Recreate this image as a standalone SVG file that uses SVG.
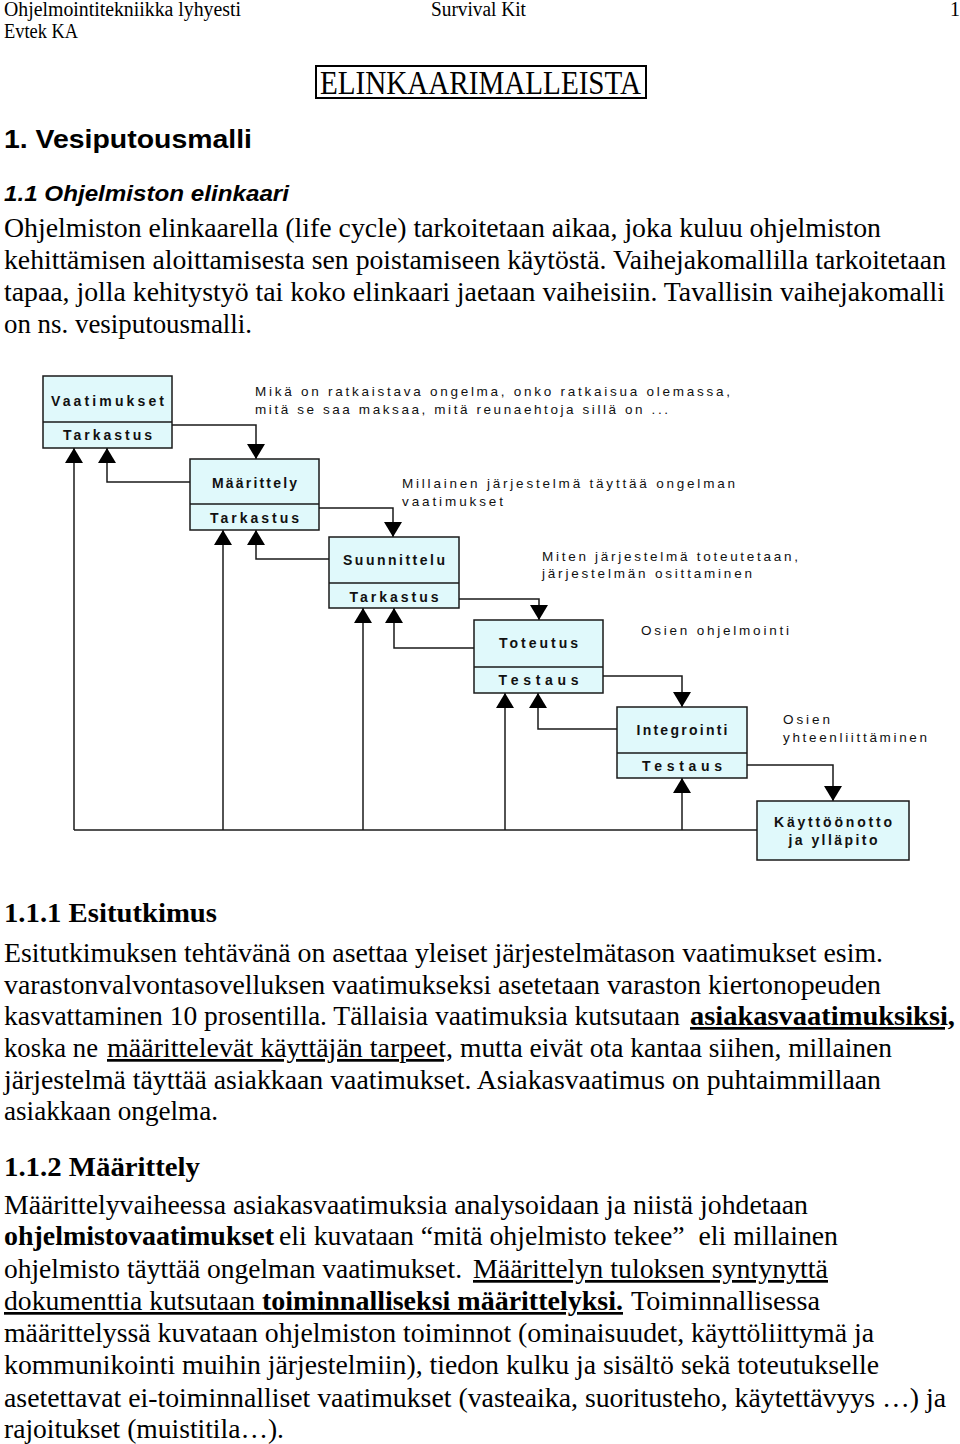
<svg xmlns="http://www.w3.org/2000/svg" width="960" height="1444" viewBox="0 0 960 1444">
<style>
.bg{fill:#ffffff}
.serif{font-family:"Liberation Serif","Times New Roman",serif;fill:#000}
.hdr{font-size:20px}
.body{font-size:27px}
.b{font-weight:bold}
.u{text-decoration:underline}
.pre{white-space:pre}
.h1{font-family:"Liberation Sans",Arial,sans-serif;font-weight:bold;font-size:26px;fill:#000}
.h2{font-family:"Liberation Sans",Arial,sans-serif;font-weight:bold;font-style:italic;font-size:22px;fill:#000}
.box{fill:#e0f9fb;stroke:#1a1a1a;stroke-width:1.5}
.div{stroke:#1a1a1a;stroke-width:1.5;fill:none}
.lbl{font-family:"Liberation Sans",Arial,sans-serif;font-weight:bold;font-size:14px;fill:#111;text-anchor:middle}
.note{font-family:"Liberation Sans",Arial,sans-serif;font-size:13.5px;fill:#111}
.con{fill:none;stroke:#1a1a1a;stroke-width:1.5}
.arr{marker-end:url(#ah)}
</style>
<defs>
<marker id="ah" markerUnits="userSpaceOnUse" viewBox="0 0 15 18" markerWidth="15" markerHeight="18" refX="15" refY="9" orient="auto">
<path d="M0,0 L15,9 L0,18 Z" fill="#000"/>
</marker>
</defs>
<rect class="bg" x="0" y="0" width="960" height="1444"/>

<g id="header">
<text class="serif hdr" x="4" y="16" textLength="237" lengthAdjust="spacingAndGlyphs">Ohjelmointitekniikka  lyhyesti</text>
<text class="serif hdr" x="431" y="16" textLength="95" lengthAdjust="spacingAndGlyphs">Survival Kit</text>
<text class="serif hdr" x="950" y="16">1</text>
<text class="serif hdr" x="4" y="38" textLength="74" lengthAdjust="spacingAndGlyphs">Evtek KA</text>
</g>

<g id="title">
<rect x="316" y="66" width="330" height="32" fill="none" stroke="#000" stroke-width="2"/>
<text class="serif" x="320" y="94" font-size="34" textLength="321" lengthAdjust="spacingAndGlyphs">ELINKAARIMALLEISTA</text>
</g>

<g id="intro">
<text class="h1" x="4" y="148" textLength="248" lengthAdjust="spacingAndGlyphs">1.  Vesiputousmalli</text>
<text class="h2" x="4" y="201" textLength="285" lengthAdjust="spacingAndGlyphs">1.1  Ohjelmiston elinkaari</text>
<text class="serif body" x="4" y="237" textLength="877" lengthAdjust="spacingAndGlyphs">Ohjelmiston elinkaarella (life cycle) tarkoitetaan aikaa, joka kuluu ohjelmiston</text>
<text class="serif body" x="4" y="269" textLength="942" lengthAdjust="spacingAndGlyphs">kehittämisen aloittamisesta sen poistamiseen käytöstä. Vaihejakomallilla tarkoitetaan</text>
<text class="serif body" x="4" y="301" textLength="941" lengthAdjust="spacingAndGlyphs">tapaa, jolla kehitystyö tai koko elinkaari jaetaan vaiheisiin. Tavallisin vaihejakomalli</text>
<text class="serif body" x="4" y="333" textLength="248" lengthAdjust="spacingAndGlyphs">on ns. vesiputousmalli.</text>
</g>

<g id="connectors">
<path class="con arr" d="M172,425 H256 V459"/>
<path class="con arr" d="M319,508 H393 V537"/>
<path class="con arr" d="M459,599 H539 V620"/>
<path class="con arr" d="M603,676 H682 V707"/>
<path class="con arr" d="M747,765 H833 V801"/>
<path class="con arr" d="M190,482 H107 V448"/>
<path class="con arr" d="M329,559 H256 V530"/>
<path class="con arr" d="M474,648 H394 V608"/>
<path class="con arr" d="M617,729 H538 V693"/>
<path class="con" d="M757,830 H74"/>
<path class="con arr" d="M74,830 V448"/>
<path class="con arr" d="M223,830 V530"/>
<path class="con arr" d="M363,830 V608"/>
<path class="con arr" d="M505,830 V693"/>
<path class="con arr" d="M682,830 V778"/>
</g>

<g id="vaatimukset">
<rect class="box" x="43" y="376" width="129" height="72"/>
<line class="div" x1="43" y1="422" x2="172" y2="422"/>
<text class="lbl" x="107.5" y="406" textLength="113" lengthAdjust="spacing">Vaatimukset</text>
<text class="lbl" x="107.5" y="440" textLength="89" lengthAdjust="spacing">Tarkastus</text>
<text class="note" x="255" y="396" textLength="475" lengthAdjust="spacing">Mikä on ratkaistava ongelma, onko ratkaisua olemassa,</text>
<text class="note" x="255" y="414" textLength="413" lengthAdjust="spacing">mitä se saa maksaa, mitä reunaehtoja sillä on ...</text>
</g>

<g id="maarittely">
<rect class="box" x="190" y="459" width="129" height="71"/>
<line class="div" x1="190" y1="504" x2="319" y2="504"/>
<text class="lbl" x="254.5" y="488" textLength="85" lengthAdjust="spacing">Määrittely</text>
<text class="lbl" x="254.5" y="523" textLength="89" lengthAdjust="spacing">Tarkastus</text>
<text class="note" x="402" y="488" textLength="333" lengthAdjust="spacing">Millainen järjestelmä täyttää ongelman</text>
<text class="note" x="402" y="506" textLength="101" lengthAdjust="spacing">vaatimukset</text>
</g>

<g id="suunnittelu">
<rect class="box" x="329" y="537" width="130" height="71"/>
<line class="div" x1="329" y1="583" x2="459" y2="583"/>
<text class="lbl" x="394" y="565" textLength="102" lengthAdjust="spacing">Suunnittelu</text>
<text class="lbl" x="394" y="602" textLength="89" lengthAdjust="spacing">Tarkastus</text>
<text class="note" x="542" y="561" textLength="256" lengthAdjust="spacing">Miten järjestelmä toteutetaan,</text>
<text class="note" x="542" y="578" textLength="210" lengthAdjust="spacing">järjestelmän osittaminen</text>
</g>

<g id="toteutus">
<rect class="box" x="474" y="620" width="129" height="73"/>
<line class="div" x1="474" y1="667" x2="603" y2="667"/>
<text class="lbl" x="538.5" y="648" textLength="79" lengthAdjust="spacing">Toteutus</text>
<text class="lbl" x="538.5" y="685" textLength="80" lengthAdjust="spacing">Testaus</text>
<text class="note" x="641" y="635" textLength="148" lengthAdjust="spacing">Osien ohjelmointi</text>
</g>

<g id="integrointi">
<rect class="box" x="617" y="707" width="130" height="71"/>
<line class="div" x1="617" y1="753" x2="747" y2="753"/>
<text class="lbl" x="682" y="735" textLength="91" lengthAdjust="spacing">Integrointi</text>
<text class="lbl" x="682" y="771" textLength="80" lengthAdjust="spacing">Testaus</text>
<text class="note" x="783" y="724" textLength="47" lengthAdjust="spacing">Osien</text>
<text class="note" x="783" y="742" textLength="144" lengthAdjust="spacing">yhteenliittäminen</text>
</g>

<g id="kayttoonotto">
<rect class="box" x="757" y="801" width="152" height="59"/>
<text class="lbl" x="833" y="827" textLength="118" lengthAdjust="spacing">Käyttöönotto</text>
<text class="lbl" x="833" y="845" textLength="89" lengthAdjust="spacing">ja ylläpito</text>
</g>

<g id="esitutkimus">
<text class="serif body b" x="4" y="922" textLength="213" lengthAdjust="spacingAndGlyphs">1.1.1  Esitutkimus</text>
<text class="serif body" x="4" y="962" textLength="879" lengthAdjust="spacingAndGlyphs">Esitutkimuksen tehtävänä on asettaa yleiset järjestelmätason vaatimukset esim.</text>
<text class="serif body" x="4" y="994" textLength="877" lengthAdjust="spacingAndGlyphs">varastonvalvontasovelluksen vaatimukseksi asetetaan varaston kiertonopeuden</text>
<text class="serif body" x="4" y="1025" textLength="676" lengthAdjust="spacingAndGlyphs">kasvattaminen 10 prosentilla. Tällaisia vaatimuksia kutsutaan</text>
<text class="serif body b u" x="690" y="1025" textLength="265" lengthAdjust="spacingAndGlyphs">asiakasvaatimuksiksi,</text>
<text class="serif body" x="4" y="1057" textLength="94" lengthAdjust="spacingAndGlyphs">koska ne</text>
<text class="serif body u" x="107" y="1057" textLength="346" lengthAdjust="spacingAndGlyphs">määrittelevät käyttäjän tarpeet,</text>
<text class="serif body" x="460" y="1057" textLength="432" lengthAdjust="spacingAndGlyphs">mutta eivät ota kantaa siihen, millainen</text>
<text class="serif body" x="4" y="1089" textLength="877" lengthAdjust="spacingAndGlyphs">järjestelmä täyttää asiakkaan vaatimukset. Asiakasvaatimus on puhtaimmillaan</text>
<text class="serif body" x="4" y="1120" textLength="214" lengthAdjust="spacingAndGlyphs">asiakkaan ongelma.</text>
</g>

<g id="maarittely-teksti">
<text class="serif body b" x="4" y="1176" textLength="196" lengthAdjust="spacingAndGlyphs">1.1.2  Määrittely</text>
<text class="serif body" x="4" y="1214" textLength="804" lengthAdjust="spacingAndGlyphs">Määrittelyvaiheessa asiakasvaatimuksia analysoidaan ja niistä johdetaan</text>
<text class="serif body b" x="4" y="1245" textLength="270" lengthAdjust="spacingAndGlyphs">ohjelmistovaatimukset</text>
<text class="serif body pre" x="279" y="1245" textLength="559" lengthAdjust="spacingAndGlyphs">eli kuvataan “mitä ohjelmisto tekee”  eli millainen</text>
<text class="serif body" x="4" y="1278" textLength="458" lengthAdjust="spacingAndGlyphs">ohjelmisto täyttää ongelman vaatimukset.</text>
<text class="serif body u" x="473" y="1278" textLength="355" lengthAdjust="spacingAndGlyphs">Määrittelyn tuloksen syntynyttä</text>
<text class="serif body u pre" x="4" y="1310" textLength="258" lengthAdjust="spacingAndGlyphs">dokumenttia kutsutaan </text>
<text class="serif body b u" x="262" y="1310" textLength="361" lengthAdjust="spacingAndGlyphs">toiminnalliseksi määrittelyksi.</text>
<text class="serif body" x="631" y="1310" textLength="189" lengthAdjust="spacingAndGlyphs">Toiminnallisessa</text>
<text class="serif body" x="4" y="1342" textLength="870" lengthAdjust="spacingAndGlyphs">määrittelyssä kuvataan ohjelmiston toiminnot (ominaisuudet, käyttöliittymä ja</text>
<text class="serif body" x="4" y="1374" textLength="875" lengthAdjust="spacingAndGlyphs">kommunikointi muihin järjestelmiin), tiedon kulku ja sisältö sekä toteutukselle</text>
<text class="serif body" x="4" y="1407" textLength="942" lengthAdjust="spacingAndGlyphs">asetettavat ei-toiminnalliset vaatimukset (vasteaika, suoritusteho, käytettävyys …) ja</text>
<text class="serif body" x="4" y="1438" textLength="280" lengthAdjust="spacingAndGlyphs">rajoitukset (muistitila…).</text>
</g>
</svg>
